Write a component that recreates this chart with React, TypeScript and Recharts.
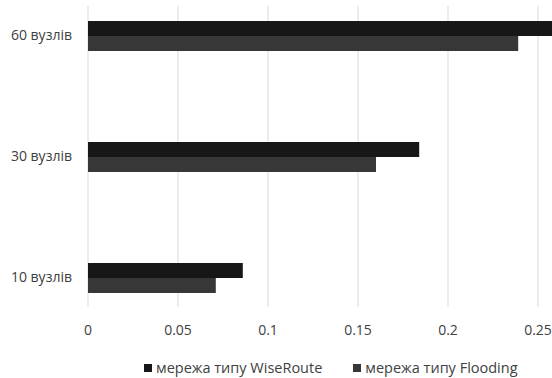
import { BarChart, Bar, XAxis, YAxis, CartesianGrid, Legend } from 'recharts';

const categories = ['60 вузлів', '30 вузлів', '10 вузлів'];
const wiseRoute = [0.262, 0.184, 0.086];
const flooding = [0.239, 0.16, 0.071];
const xTicks = [0, 0.05, 0.1, 0.15, 0.2, 0.25];

const seriesNames = {
    wiseRoute: 'мережа типу WiseRoute',
    flooding: 'мережа типу Flooding',
};
const colors = { wiseRoute: '#171717', flooding: '#373737' };

const data = categories.map((name, i) => ({
    name,
    wiseRoute: wiseRoute[i],
    flooding: flooding[i],
}));

const font = '"Open Sans", sans-serif';

const LegendContent = () => (
    <div
        style={{
            display: 'flex',
            justifyContent: 'flex-start',
            gap: 31,
            fontFamily: font,
            fontSize: 14.5,
            color: '#404040',
            paddingLeft: 144,
            paddingTop: 11,
            whiteSpace: 'nowrap',
        }}
    >
        {(['wiseRoute', 'flooding'] as const).map((k) => (
            <div key={k} style={{ display: 'flex', alignItems: 'center' }}>
                <span
                    style={{
                        width: 8,
                        height: 8,
                        background: colors[k],
                        display: 'inline-block',
                        marginRight: 4,
                    }}
                />
                {seriesNames[k]}
            </div>
        ))}
    </div>
);

export default function App() {
    return (
        <div
            style={{
                position: 'absolute',
                left: 0,
                top: 0,
                width: 552,
                height: 378,
                overflow: 'hidden',
                background: '#fff',
            }}
        >
            <BarChart
                width={556}
                height={378}
                data={data}
                layout="vertical"
                barGap={0}
                barSize={15}
                margin={{ top: 6, right: 0, bottom: 0, left: 0 }}
            >
                <CartesianGrid horizontal={false} stroke="#d9d9d9" />
                <XAxis
                    type="number"
                    domain={[0, 0.26]}
                    ticks={xTicks}
                    allowDataOverflow
                    axisLine={false}
                    tickLine={false}
                    tickMargin={12}
                    height={40}
                    tick={{ fill: '#404040', fontSize: 14, fontFamily: font }}
                />
                <YAxis
                    type="category"
                    dataKey="name"
                    width={88}
                    axisLine={false}
                    tickLine={false}
                    tickMargin={10}
                    padding={{ top: -31, bottom: -31 }}
                    tick={{ fill: '#404040', fontSize: 14, fontFamily: font }}
                />
                <Legend
                    verticalAlign="bottom"
                    height={31}
                    content={<LegendContent />}
                />
                <Bar
                    dataKey="wiseRoute"
                    name={seriesNames.wiseRoute}
                    fill={colors.wiseRoute}
                    isAnimationActive={false}
                />
                <Bar
                    dataKey="flooding"
                    name={seriesNames.flooding}
                    fill={colors.flooding}
                    isAnimationActive={false}
                />
            </BarChart>
        </div>
    );
}
